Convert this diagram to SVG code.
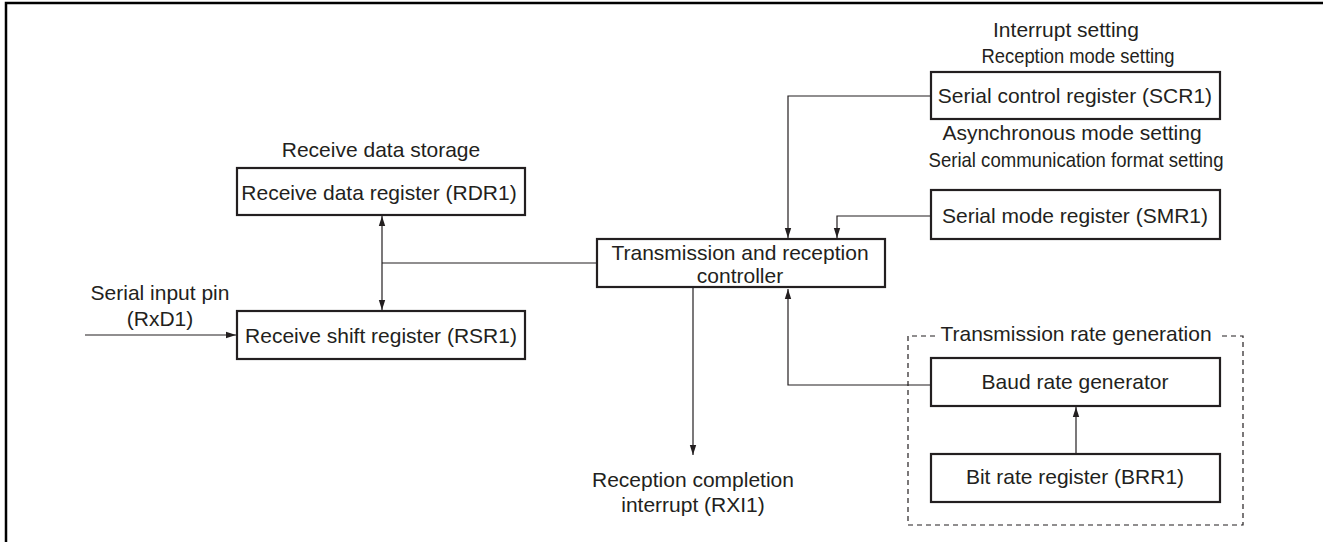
<svg xmlns="http://www.w3.org/2000/svg" width="1323" height="542" viewBox="0 0 1323 542">
<defs>
<style>
.box{fill:#fff;stroke:#231f20;stroke-width:2.2}
.t{font-family:"Liberation Sans",Arial,sans-serif;font-size:21px;fill:#231f20;text-anchor:middle}
.c{fill:none;stroke:#231f20;stroke-width:1.2}
.d{fill:none;stroke:#231f20;stroke-width:1.2;stroke-dasharray:5,4}
</style>
<marker id="ah" viewBox="0 0 10 10" refX="10" refY="5" markerWidth="10" markerHeight="10" markerUnits="userSpaceOnUse" orient="auto-start-reverse">
<path d="M0,1.8 L10,5 L0,8.2 z" fill="#231f20"/>
</marker>
</defs>
<rect width="1323" height="542" fill="#fff"/>
<path d="M6,542 V3 H1323" fill="none" stroke="#000" stroke-width="2.5"/>

<g id="connectors">
<path class="c" d="M382,216 V310" marker-start="url(#ah)" marker-end="url(#ah)"/>
<path class="c" d="M382,263 H597"/>
<path class="c" d="M85,335 H236" marker-end="url(#ah)"/>
<path class="c" d="M931,96 H788 V238" marker-end="url(#ah)"/>
<path class="c" d="M931,216 H837 V238" marker-end="url(#ah)"/>
<path class="c" d="M693,288 V455" marker-end="url(#ah)"/>
<path class="c" d="M931,385 H788 V289" marker-end="url(#ah)"/>
<path class="c" d="M1076,453 V407" marker-end="url(#ah)"/>
</g>

<g id="rate-group">
<path class="d" d="M935,336 H908 V525 H1243 V336 H1218"/>
<text class="t" x="1076" y="341">Transmission rate generation</text>
</g>

<g id="rdr1">
<text class="t" x="381" y="157">Receive data storage</text>
<rect class="box" x="237" y="168" width="288" height="47"/>
<text class="t" x="379" y="200">Receive data register (RDR1)</text>
</g>

<g id="rsr1">
<rect class="box" x="237" y="311" width="288" height="48"/>
<text class="t" x="381" y="343">Receive shift register (RSR1)</text>
</g>

<g id="rxd1">
<text class="t" x="160" y="300">Serial input pin</text>
<text class="t" x="160" y="326">(RxD1)</text>
</g>

<g id="controller">
<rect class="box" x="597" y="239" width="288" height="48"/>
<text class="t" x="740" y="260">Transmission and reception</text>
<text class="t" x="740" y="283">controller</text>
</g>

<g id="scr1">
<text class="t" x="1066" y="37">Interrupt setting</text>
<text class="t" x="1078" y="63" textLength="193" lengthAdjust="spacingAndGlyphs">Reception mode setting</text>
<rect class="box" x="931" y="72" width="289" height="47"/>
<text class="t" x="1075" y="103">Serial control register (SCR1)</text>
</g>

<g id="smr1">
<text class="t" x="1072" y="140">Asynchronous mode setting</text>
<text class="t" x="1076" y="167" textLength="295" lengthAdjust="spacingAndGlyphs">Serial communication format setting</text>
<rect class="box" x="931" y="190" width="289" height="49"/>
<text class="t" x="1075" y="223">Serial mode register (SMR1)</text>
</g>

<g id="baud">
<rect class="box" x="931" y="358" width="289" height="48"/>
<text class="t" x="1075" y="389">Baud rate generator</text>
</g>

<g id="brr1">
<rect class="box" x="931" y="454" width="289" height="48"/>
<text class="t" x="1075" y="484">Bit rate register (BRR1)</text>
</g>

<g id="rxi1">
<text class="t" x="693" y="487">Reception completion</text>
<text class="t" x="693" y="512">interrupt (RXI1)</text>
</g>
</svg>
